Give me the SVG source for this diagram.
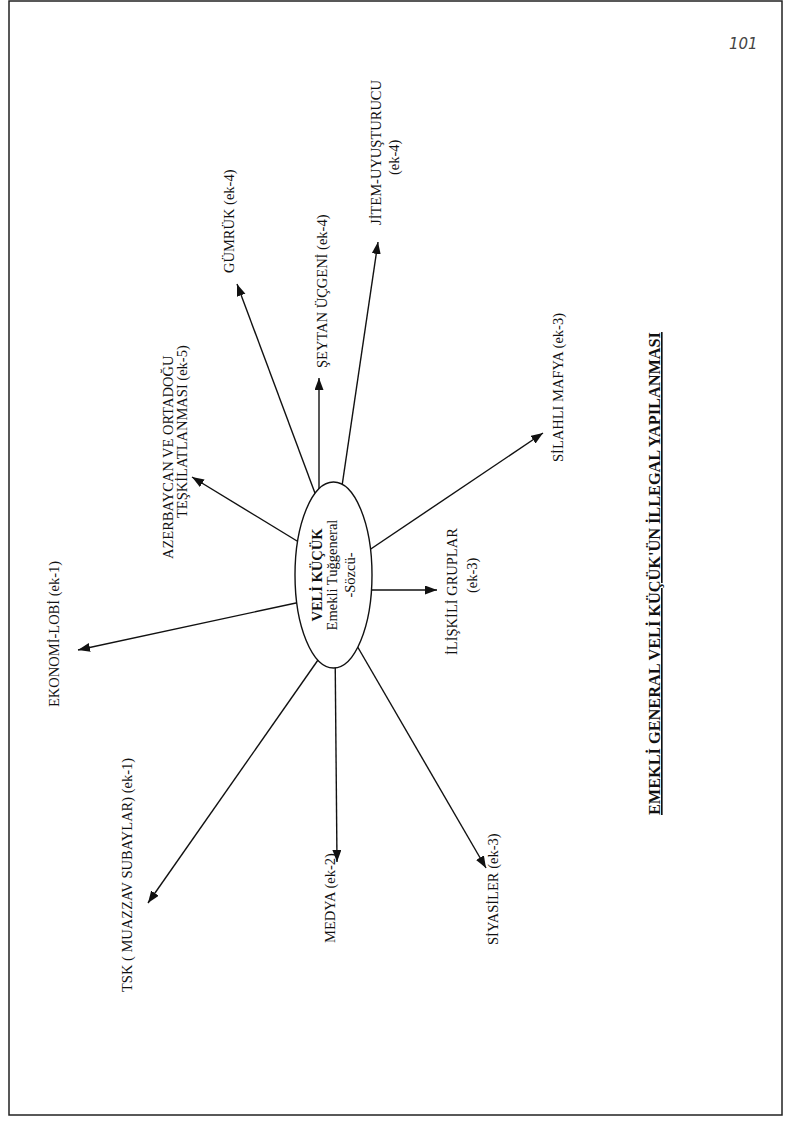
<svg xmlns="http://www.w3.org/2000/svg" width="789" height="1123" viewBox="0 0 789 1123">
<defs>
<style>
.lbl{font-family:"Liberation Serif","Times New Roman",serif;font-size:14.5px;fill:#111}
.b{font-weight:bold}
.conn line{stroke:#111;stroke-width:1.4;marker-end:url(#ah)}
</style>
<marker id="ah" markerUnits="userSpaceOnUse" markerWidth="13" markerHeight="10" refX="12" refY="4.5" orient="auto"><path d="M0,0 L12,4.5 L0,9 z" fill="#111"/></marker>
</defs>
<rect width="789" height="1123" fill="#fff"/>
<rect x="9" y="1" width="773" height="1114" fill="none" stroke="#222" stroke-width="1.5"/>
<g id="connectors" class="conn">
<line x1="310" y1="600" x2="78" y2="650"/>
<line x1="325" y1="650" x2="148" y2="903"/>
<line x1="335" y1="640" x2="337" y2="862"/>
<line x1="342" y1="620" x2="486" y2="868"/>
<line x1="350" y1="590" x2="437" y2="590"/>
<line x1="350" y1="563" x2="543" y2="433"/>
<line x1="337" y1="520" x2="378" y2="242"/>
<line x1="319" y1="520" x2="319" y2="378"/>
<line x1="325" y1="520" x2="237" y2="284"/>
<line x1="320" y1="555" x2="192" y2="477"/>
</g>
<g id="center">
<ellipse cx="333.5" cy="575" rx="38.5" ry="93" fill="#fff" stroke="#111" stroke-width="1.4"/>
<text class="lbl b" text-anchor="middle" transform="translate(322,575) rotate(-90)">VELİ KÜÇÜK</text>
<text class="lbl" text-anchor="middle" transform="translate(337,575) rotate(-90)">Emekli Tuğgeneral</text>
<text class="lbl" text-anchor="middle" transform="translate(355,575) rotate(-90)">-Sözcü-</text>
</g>
<g id="ekonomi"><text class="lbl" transform="translate(59,707) rotate(-90)">EKONOMİ-LOBİ (ek-1)</text></g>
<g id="tsk"><text class="lbl" transform="translate(132,992) rotate(-90)">TSK ( MUAZZAV SUBAYLAR) (ek-1)</text></g>
<g id="medya"><text class="lbl" transform="translate(335,943) rotate(-90)">MEDYA (ek-2)</text></g>
<g id="siyasiler"><text class="lbl" transform="translate(498,945) rotate(-90)">SİYASİLER (ek-3)</text></g>
<g id="iliskili">
<text class="lbl" transform="translate(457,655) rotate(-90)">İLİŞKİLİ GRUPLAR</text>
<text class="lbl" transform="translate(477,593) rotate(-90)">(ek-3)</text>
</g>
<g id="silahli"><text class="lbl" transform="translate(563,462) rotate(-90)">SİLAHLI MAFYA (ek-3)</text></g>
<g id="jitem">
<text class="lbl" transform="translate(381,225) rotate(-90)">JİTEM-UYUŞTURUCU</text>
<text class="lbl" transform="translate(399,175) rotate(-90)">(ek-4)</text>
</g>
<g id="seytan"><text class="lbl" transform="translate(327,368) rotate(-90)">ŞEYTAN ÜÇGENİ (ek-4)</text></g>
<g id="gumruk"><text class="lbl" transform="translate(234,273) rotate(-90)">GÜMRÜK (ek-4)</text></g>
<g id="azerbaycan">
<text class="lbl" transform="translate(173,559) rotate(-90)">AZERBAYCAN VE ORTADOĞU</text>
<text class="lbl" transform="translate(187,518) rotate(-90)">TEŞKİLATLANMASI (ek-5)</text>
</g>
<g id="title"><text class="lbl b" style="font-size:16.3px" text-decoration="underline" transform="translate(660,815) rotate(-90)">EMEKLİ GENERAL VELİ KÜÇÜK'ÜN İLLEGAL YAPILANMASI</text></g>
<g id="pagenum"><text x="729" y="49" style="font-family:'DejaVu Sans',sans-serif;font-size:15px;fill:#444;font-style:italic">101</text></g>
</svg>
